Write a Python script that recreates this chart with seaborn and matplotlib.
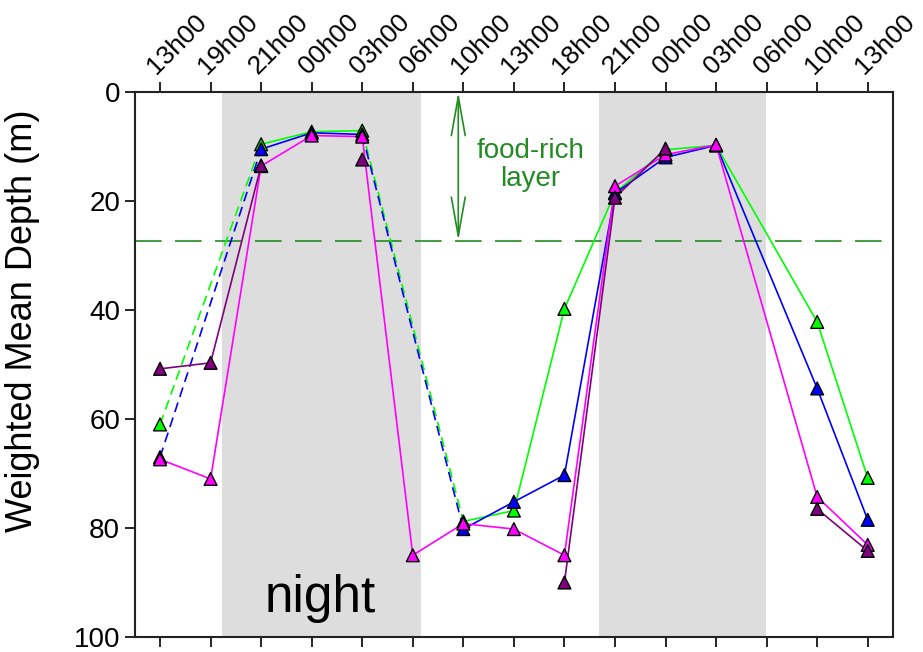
import numpy as np
import pandas as pd
import seaborn as sns
import matplotlib.pyplot as plt

nan = np.nan

# sampling times (x positions 0..14)
times = ["13h00", "19h00", "21h00", "00h00", "03h00", "06h00", "10h00", "13h00",
         "18h00", "21h00", "00h00", "03h00", "06h00", "10h00", "13h00"]

# weighted mean depth (m) per series, NaN = not sampled
green_depth = [61.0, nan, 9.6, 7.3, 7.1, nan, 78.8, 76.8, 39.8, 18.5, 10.6, 9.8, nan, 42.2, 70.8]
blue_depth = [67.0, nan, 10.5, 7.5, 7.8, nan, 80.2, 75.2, 70.3, 18.6, 12.0, 9.8, nan, 54.4, 78.5]
magenta_depth = [67.4, 71.0, 13.6, 8.0, 8.2, 85.0, 79.2, 80.2, 85.0, 17.3, 11.5, 9.7, nan, 74.3, 83.1]
purple_depth = [50.8, 49.7, 13.5, nan, 12.4, nan, nan, nan, 90.0, 19.4, 10.4, nan, nan, 76.5, 84.2]

series_names = ["green", "blue", "magenta", "purple"]
series_colors = ["#00ff00", "#0000ff", "#ff00ff", "#800080"]

# gaps drawn as dashed (interpolated) segments, and gaps left open
dashed_gaps = {"green": [(0, 2), (4, 6)], "blue": [(0, 2), (4, 6)]}
open_gaps = {"purple": [(2, 4), (4, 8), (10, 13)]}

night_spans = [(1.23, 5.17), (8.69, 11.98)]
food_layer_depth = 27.3

depths = dict(zip(series_names, [green_depth, blue_depth, magenta_depth, purple_depth]))

# build tables for seaborn
pts_rows = []
seg_rows = []
seg_id = 0
for name in series_names:
    d = depths[name]
    valid = [i for i, v in enumerate(d) if not np.isnan(v)]
    for i in valid:
        pts_rows.append({"series": name, "x": i, "depth": d[i]})
    for a, b in zip(valid[:-1], valid[1:]):
        if (a, b) in open_gaps.get(name, []):
            continue
        kind = "dashed" if (a, b) in dashed_gaps.get(name, []) else "solid"
        for i in (a, b):
            seg_rows.append({"series": name, "x": i, "depth": d[i], "kind": kind, "seg": seg_id})
        seg_id += 1

pts = pd.DataFrame(pts_rows)
segs = pd.DataFrame(seg_rows)
palette = dict(zip(series_names, series_colors))

sns.set_style("ticks")
plt.rcParams["font.family"] = ["Liberation Sans", "DejaVu Sans"]
plt.rcParams["text.color"] = "black"
plt.rcParams["xtick.color"] = "black"
plt.rcParams["ytick.color"] = "black"
plt.rcParams["axes.labelcolor"] = "black"

fig, ax = plt.subplots(figsize=(9.23, 6.52), dpi=100)
fig.subplots_adjust(left=0.146, right=0.9675, bottom=0.023, top=0.859)

for x0, x1 in night_spans:
    ax.axvspan(x0, x1, color="#dddddd", lw=0, zorder=0)

ax.axhline(food_layer_depth, color="#228b22", lw=1.2, dashes=(16, 8), zorder=1)
ax.annotate("", xy=(5.9, 0), xytext=(5.9, food_layer_depth),
            arrowprops=dict(arrowstyle="<->,head_length=1.4,head_width=0.25",
                            color="#228b22", lw=1.2, shrinkA=0, shrinkB=0,
                            mutation_scale=20))
ax.text(7.33, 13.4, "food-rich\nlayer", color="#228b22", fontsize=20,
        ha="center", va="center", linespacing=1.1)
ax.text(3.17, 93.0, "night", fontsize=37, ha="center", va="center")

sns.lineplot(data=segs, x="x", y="depth", hue="series", style="kind", units="seg",
             estimator=None, sort=False, palette=palette, hue_order=series_names,
             dashes={"solid": "", "dashed": (6, 3.5)}, lw=1.2, legend=False,
             ax=ax, zorder=2)
sns.scatterplot(data=pts, x="x", y="depth", hue="series", palette=palette,
                hue_order=series_names, marker="^", s=85, edgecolor="black",
                linewidth=1.0, legend=False, ax=ax, zorder=3)

ax.set_xlim(-0.5, 14.5)
ax.set_ylim(100, 0)
ax.set_xticks(range(len(times)))
ax.set_xticklabels(times, rotation=45, ha="left", va="bottom", rotation_mode="anchor")
ax.set_yticks([0, 20, 40, 60, 80, 100])
ax.tick_params(axis="x", top=True, labeltop=True, bottom=True, labelbottom=False,
               labelsize=19, length=7, width=1.2, direction="out", pad=3)
ax.tick_params(axis="y", labelsize=20, length=7, width=1.2, direction="out")
ax.set_xlabel("")
ax.set_ylabel("Weighted Mean Depth (m)", fontsize=26)
ax.yaxis.set_label_coords(-0.125, 0.58)
for sp in ax.spines.values():
    sp.set_visible(True)
    sp.set_linewidth(1.5)
    sp.set_color("#222222")

plt.savefig("out.png", dpi=100)
